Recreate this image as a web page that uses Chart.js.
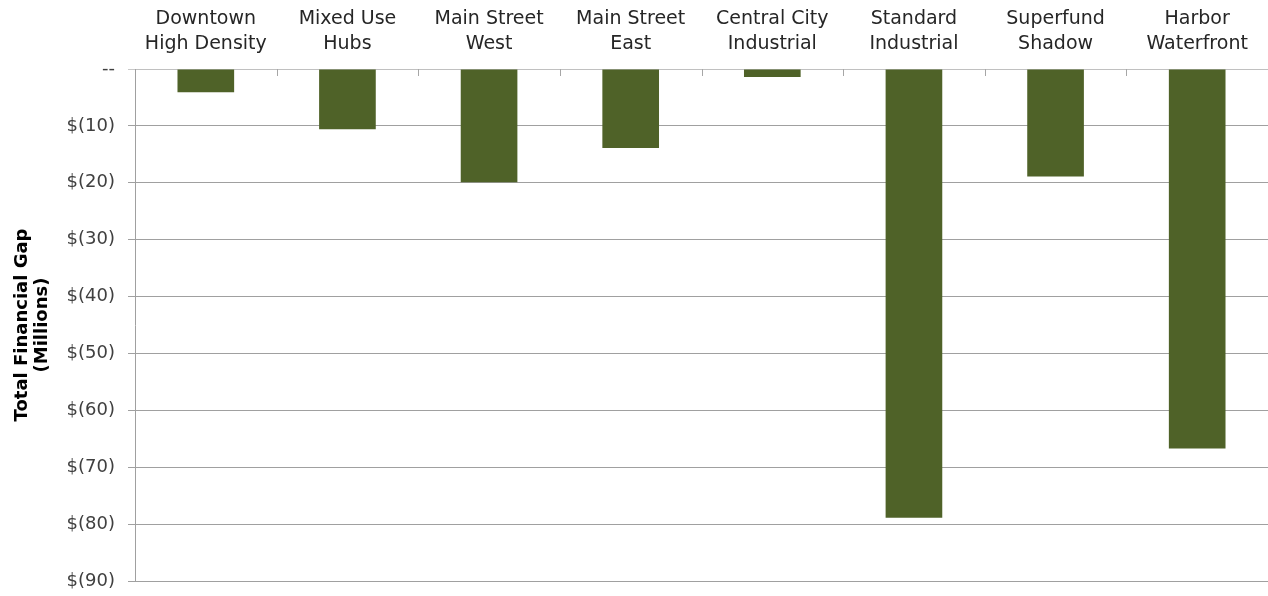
<!DOCTYPE html>
<html>
<head>
<meta charset="utf-8">
<script src="https://cdn.jsdelivr.net/npm/chart.js@4"></script>
<style>
  html, body { margin: 0; padding: 0; background: #fff; }
  #wrap { width: 1268px; height: 596px; }
</style>
</head>
<body>
<div id="wrap"><canvas id="c" width="1268" height="596"></canvas></div>
<script>
const categories = [
  ["Downtown", "High Density"],
  ["Mixed Use", "Hubs"],
  ["Main Street", "West"],
  ["Main Street", "East"],
  ["Central City", "Industrial"],
  ["Standard", "Industrial"],
  ["Superfund", "Shadow"],
  ["Harbor", "Waterfront"]
];
const gapValues = [-4.1, -10.6, -19.9, -13.9, -1.4, -78.9, -18.9, -66.7];
const yTickValues = [0, -10, -20, -30, -40, -50, -60, -70, -80, -90];
const yTickLabels = ["--", "$(10)", "$(20)", "$(30)", "$(40)", "$(50)", "$(60)", "$(70)", "$(80)", "$(90)"];
const yTitle = ["Total Financial Gap", "(Millions)"];

const FONT = "'DejaVu Sans', sans-serif";

const innerTicks = {
  id: 'innerTicks',
  afterDatasetsDraw(chart) {
    const x = chart.scales.x;
    const ctx = chart.ctx;
    const top = chart.chartArea.top;
    ctx.save();
    ctx.strokeStyle = '#a6a6a6';
    ctx.lineWidth = 1;
    for (let i = 1; i < categories.length; i++) {
      const px = Math.round((x.getPixelForValue(i - 1) + x.getPixelForValue(i)) / 2) + 0.5;
      ctx.beginPath();
      ctx.moveTo(px, top);
      ctx.lineTo(px, top + 7);
      ctx.stroke();
    }
    ctx.restore();
  }
};

new Chart(document.getElementById('c'), {
  type: 'bar',
  data: {
    labels: categories,
    datasets: [{
      data: gapValues,
      backgroundColor: '#4f6228',
      borderWidth: 0,
      barPercentage: 0.4,
      categoryPercentage: 1.0
    }]
  },
  options: {
    responsive: false,
    animation: false,
    devicePixelRatio: 1,
    layout: { padding: { left: 0, right: 0, top: 0, bottom: 15 } },
    plugins: { legend: { display: false }, tooltip: { enabled: false } },
    scales: {
      x: {
        position: 'top',
        offset: true,
        grid: { display: false, drawTicks: false },
        border: { display: true, color: '#c0c0c0', width: 1 },
        ticks: {
          color: '#262626',
          padding: 13,
          maxRotation: 0,
          autoSkip: false,
          font: { family: FONT, size: 19, lineHeight: 1.3 }
        },
        afterFit(s) { s.height = 69; s.paddingLeft = 0; s.paddingRight = 0; }
      },
      y: {
        min: -90,
        max: 0,
        afterBuildTicks(s) { s.ticks = yTickValues.map(v => ({ value: v })); },
        grid: {
          color: (c) => (c.tick && c.tick.value === 0) ? '#c8c8c8' : '#a0a0a0',
          tickLength: 7,
          drawTicks: true
        },
        border: { display: true, color: '#a0a0a0', width: 1 },
        ticks: {
          color: '#404040',
          padding: 13,
          font: { family: FONT, size: 18 },
          callback(v) {
            const i = yTickValues.indexOf(v);
            return i >= 0 ? yTickLabels[i] : '';
          }
        },
        title: {
          display: true,
          text: yTitle,
          color: '#000',
          padding: { top: 12, bottom: 0 },
          font: { family: FONT, size: 18, weight: 'bold', lineHeight: 1.12 }
        },
        afterFit(s) { s.width = 135; s.paddingTop = 0; s.paddingBottom = 0; }
      }
    }
  },
  plugins: [innerTicks]
});
</script>
</body>
</html>
